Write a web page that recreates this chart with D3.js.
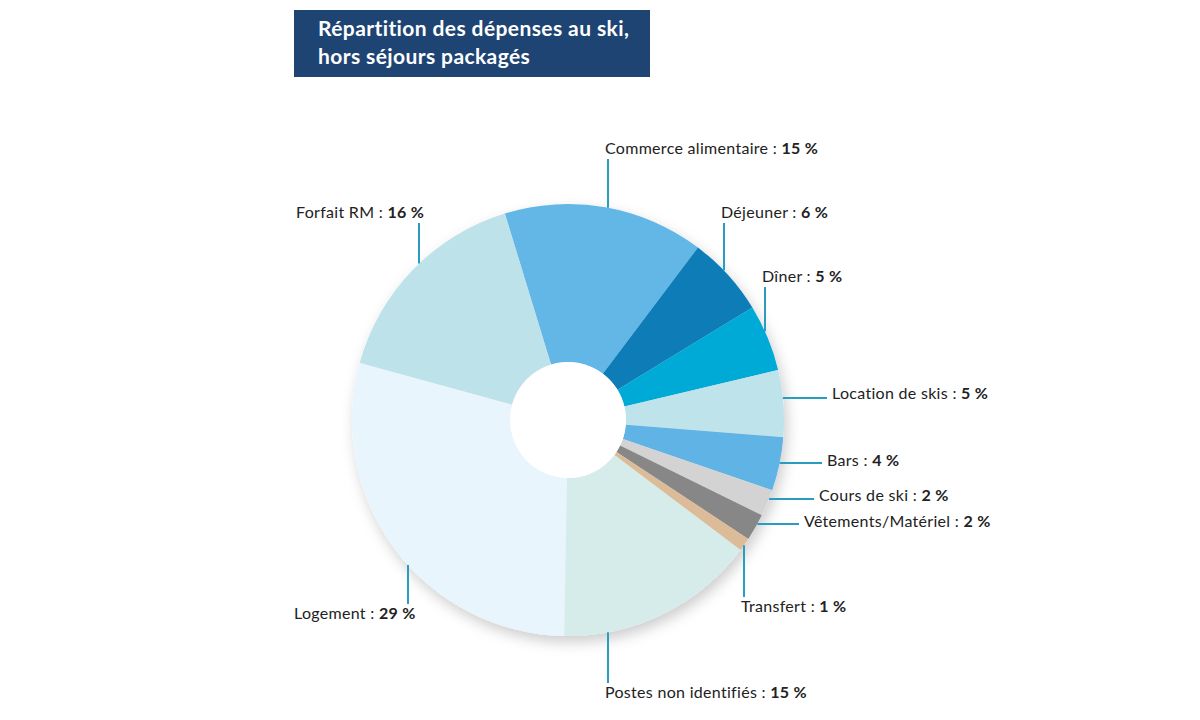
<!DOCTYPE html>
<html>
<head>
<meta charset="utf-8">
<script src="https://cdn.jsdelivr.net/npm/d3@7"></script>
<style>
  body { margin: 0; background: #fff; }
  svg text { font-family: Lato, "Open Sans", sans-serif; }
</style>
</head>
<body>
<div id="chart"></div>
<script>
// data
const categories = ["Commerce alimentaire", "Déjeuner", "Dîner", "Location de skis", "Bars",
    "Cours de ski", "Vêtements/Matériel", "Transfert", "Postes non identifiés", "Logement", "Forfait RM"];
const values = [15, 6, 5, 5, 4, 2, 2, 1, 15, 29, 16];
const colors = ["#64b7e6", "#0b7cb7", "#06aad6", "#bfe3ea", "#5eb3e5",
    "#d3d3d3", "#878787", "#dcbb98", "#d5ecea", "#e8f5fd", "#bde2e9"];
const titleLines = ["Répartition des dépenses au ski,", "hors séjours packagés"];

// label layout: anchor of text (left, baseline) and leader direction
const labelLayout = [
    {x: 605, y: 154, dir: "v", lx: 608},
    {x: 721, y: 218, dir: "v", lx: 724},
    {x: 762, y: 282, dir: "v", lx: 765},
    {x: 832, y: 399, dir: "h", ly: 398},
    {x: 827, y: 466, dir: "h", ly: 463},
    {x: 819, y: 501, dir: "h", ly: 499},
    {x: 804, y: 527, dir: "h", ly: 524},
    {x: 741, y: 612, dir: "v", lx: 744},
    {x: 605, y: 698, dir: "v", lx: 608},
    {x: 294, y: 619, dir: "v", lx: 408},
    {x: 296, y: 218, dir: "v", lx: 419}
];

const W = 1200, H = 720;
const cx = 568, cy = 420, outerR = 216, innerR = 58;
const lineColor = "#2a9cc0";

const svg = d3.select("#chart").append("svg")
    .attr("width", W)
    .attr("height", H);

const defs = svg.append("defs");
const shadow = defs.append("filter")
    .attr("id", "shadow")
    .attr("x", "-20%").attr("y", "-20%")
    .attr("width", "140%").attr("height", "140%");
shadow.append("feDropShadow")
    .attr("dx", 3).attr("dy", 6)
    .attr("stdDeviation", 7)
    .attr("flood-color", "#000")
    .attr("flood-opacity", 0.2);

// title box
const title = svg.append("g");
title.append("rect")
    .attr("x", 294).attr("y", 10)
    .attr("width", 356).attr("height", 67)
    .attr("fill", "#1e4473");
title.selectAll("text")
    .data(titleLines)
    .join("text")
    .attr("x", 318)
    .attr("y", (d, i) => 36 + i * 28)
    .attr("fill", "#fff")
    .attr("font-size", 21)
    .attr("letter-spacing", 0.4)
    .attr("font-weight", "bold")
    .text(d => d);

// pie
const pie = d3.pie()
    .sort(null)
    .startAngle(-17 * Math.PI / 180)
    .endAngle(343 * Math.PI / 180);

const arcs = pie(values);

const arc = d3.arc()
    .innerRadius(innerR)
    .outerRadius(outerR);

const g = svg.append("g")
    .attr("transform", "translate(" + cx + "," + cy + ")");

const slices = g.append("g").attr("filter", "url(#shadow)");
slices.selectAll("path")
    .data(arcs)
    .join("path")
    .attr("d", arc)
    .attr("fill", (d, i) => colors[i]);

g.append("circle")
    .attr("r", innerR)
    .attr("fill", "#fff");

// leader lines: find where a fixed x or y meets the outer rim
function leader(d, i) {
    const L = labelLayout[i];
    const mid = (d.startAngle + d.endAngle) / 2;
    if (L.dir === "v") {
        const dx = L.lx - cx;
        const dy = Math.sqrt(outerR * outerR - dx * dx);
        const up = Math.cos(mid) > 0;
        const yEdge = up ? cy - dy : cy + dy;
        const yText = up ? L.y + 5 : L.y - 15;
        return [[L.lx, yEdge], [L.lx, yText]];
    } else {
        const dy = L.ly - cy;
        const xEdge = cx + Math.sqrt(outerR * outerR - dy * dy);
        return [[xEdge, L.ly], [L.x - 5, L.ly]];
    }
}

svg.append("g").selectAll("line")
    .data(arcs)
    .join("line")
    .each(function(d, i) {
        const p = leader(d, i);
        d3.select(this)
            .attr("x1", p[0][0]).attr("y1", p[0][1])
            .attr("x2", p[1][0]).attr("y2", p[1][1]);
    })
    .attr("stroke", lineColor)
    .attr("stroke-width", 2);

const labels = svg.append("g").selectAll("text")
    .data(arcs)
    .join("text")
    .attr("x", (d, i) => labelLayout[i].x)
    .attr("y", (d, i) => labelLayout[i].y)
    .attr("font-size", 16)
    .attr("letter-spacing", 0.3)
    .attr("fill", "#222");

labels.append("tspan").text((d, i) => categories[i] + " : ");
labels.append("tspan")
    .attr("font-weight", "bold")
    .text(d => d.data + " %");
</script>
</body>
</html>
